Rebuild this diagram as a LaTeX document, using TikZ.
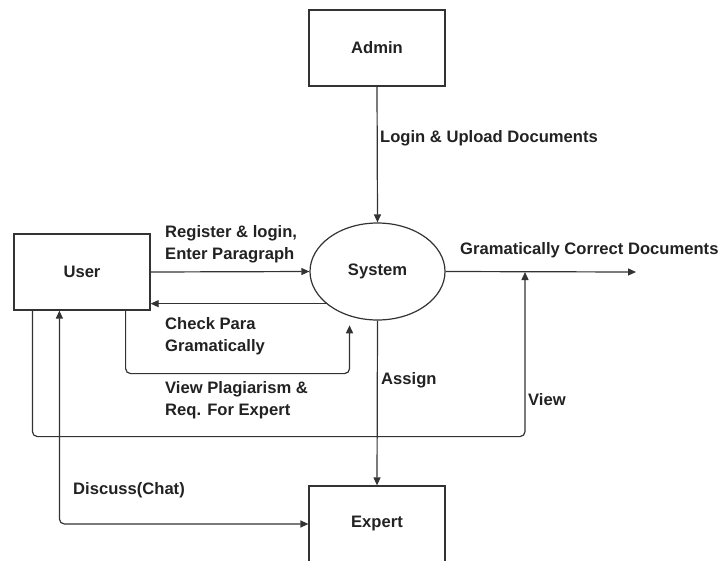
\documentclass[tikz,border=0pt]{standalone}
\usepackage{fontspec}
\setmainfont{Liberation Sans}
\usetikzlibrary{arrows.meta,shapes.geometric,calc}
\definecolor{linecol}{HTML}{333333}
\definecolor{textcol}{HTML}{222222}

\begin{document}
\begin{tikzpicture}[x=1pt,y=-1pt,
    font=\bfseries\fontsize{16.6}{22}\selectfont, text=textcol,
    entity/.style={draw=linecol, line width=1.2pt, minimum width=136pt, minimum height=76pt, inner sep=0pt},
    process/.style={draw=linecol, line width=1.2pt, ellipse, minimum width=135pt, minimum height=97pt, inner sep=0pt},
    flow/.style={draw=linecol, line width=1.2pt, rounded corners=5pt, -{Triangle[length=8pt,width=7pt]}},
    lbl/.style={anchor=west, align=left, inner sep=0pt}]
    \clip (0,0) rectangle (722,560);
    \useasboundingbox (0,0) rectangle (722,560);

    % Entities and process
    \node[entity] (admin) at (377,48) {Admin};
    \node[entity] (user) at (82,272) {User};
    \node[process] (sys) at (377.5,271.5) {System};
    \node[entity] (expert) at (377,524) {Expert};
    \coordinate (out) at (636,272);
    \coordinate (viewend) at (525,272);

    % Admin to system
    \draw[flow] (admin.south) -- (sys.north);
    \node[lbl] (lupload) at (380,138) {Login \& Upload Documents};

    % User and system
    \draw[flow] (user.east) -- (sys.west);
    \node[lbl] (lregister) at (165,244) {Register \& login,\\Enter Paragraph};
    \draw[flow] (sys.212) -- (sys.212 -| user.east);
    \node[lbl] (lcheck) at (165,336) {Check Para\\Gramatically};
    \draw[flow, shorten >=9pt] ([xshift=-25pt]user.south east) -- ++(0,63) -| (sys.238);
    \node[lbl] (lplag) at (165,400) {View Plagiarism \&\\Req. For Expert};

    % Output
    \draw[flow] (sys.east) -- (out);
    \node[lbl] (lcorrect) at (460,250) {Gramatically Correct Documents};
    \draw[flow] ([xshift=19pt]user.south west) -- ++(0,126) -| (viewend);
    \node[lbl] (lview) at (528,400) {View};

    % Expert
    \draw[flow] (sys.south) -- (expert.north);
    \node[lbl] (lassign) at (381,380) {Assign};
    \draw[flow, {Triangle[length=8pt,width=7pt]}-{Triangle[length=8pt,width=7pt]}] ([xshift=46pt]user.south west) |- (expert.west);
    \node[lbl] (ldiscuss) at (73,490) {Discuss(Chat)};
\end{tikzpicture}
\end{document}
